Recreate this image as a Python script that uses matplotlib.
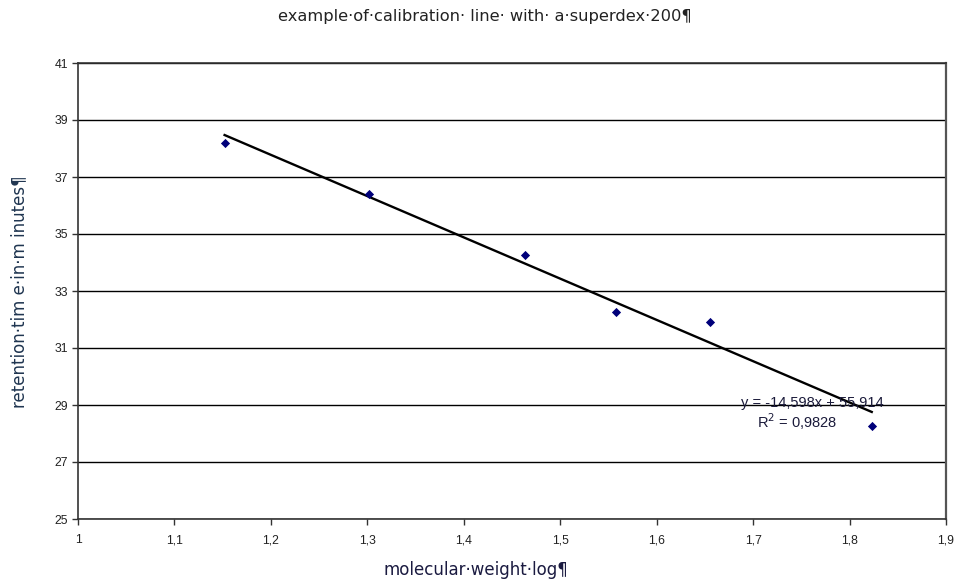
import numpy as np
import matplotlib
matplotlib.use("Agg")
import matplotlib.pyplot as plt

# data
log_mw = [1.152, 1.302, 1.463, 1.558, 1.655, 1.823]
retention = [38.19, 36.40, 34.26, 32.26, 31.91, 28.26]
x_ticks = [1.0, 1.1, 1.2, 1.3, 1.4, 1.5, 1.6, 1.7, 1.8, 1.9]
y_ticks = [25, 27, 29, 31, 33, 35, 37, 39, 41]
title = "example·of·calibration· line· with· a·superdex·200¶"
xlabel = "molecular·weight·log¶"
ylabel = "retention·tim e·in·m inutes¶"
eq_text = "y = -14,598x + 55,914"
r2_text = "R$^2$ = 0,9828"

fig = plt.figure(figsize=(9.62, 5.86), dpi=100)
ax = fig.add_axes([78/962, 67/586, 868/962, 456/586])

slope, intercept = np.polyfit(log_mw, retention, 1)
xs = np.array([min(log_mw), max(log_mw)])
ax.plot(xs, slope * xs + intercept, color="black", lw=1.7, zorder=3)
ax.scatter(log_mw, retention, marker="D", s=22, color="#00007a", zorder=4, linewidths=0)

ax.set_xlim(1.0, 1.9)
ax.set_ylim(25, 41)
ax.set_xticks(x_ticks)
ax.set_yticks(y_ticks)
ax.set_xticklabels([("%g" % v).replace(".", ",") for v in x_ticks],
                   fontfamily="Liberation Sans", fontsize=8.8, color="#222222")
ax.set_yticklabels([str(v) for v in y_ticks],
                   fontfamily="Liberation Sans", fontsize=8.8, color="#222222")
ax.tick_params(axis="both", direction="out", length=4, width=1, color="#333333")
ax.tick_params(axis="x", pad=7)
ax.tick_params(axis="y", pad=3)
ax.grid(axis="y", color="black", lw=1)
ax.set_axisbelow(True)
for side in ["left", "bottom", "top"]:
    ax.spines[side].set_color("#333333")
    ax.spines[side].set_linewidth(1.2)
ax.spines["right"].set_color("#555555")
ax.spines["right"].set_linewidth(1.6)

fig.text(485/962, 1 - 17/586, title, ha="center", va="center",
         fontfamily="DejaVu Sans", fontsize=11.7, color="#222222")
fig.text(476/962, 1 - 570/586, xlabel, ha="center", va="center",
         fontfamily="DejaVu Sans", fontsize=12, color="#1a1a40")
fig.text(19/962, 1 - 292/586, ylabel, ha="center", va="center", rotation=90,
         fontfamily="DejaVu Sans", fontsize=12, color="#1f3550")

ax.text(0.8456, 0.2544, eq_text, transform=ax.transAxes, ha="center", va="center",
        fontfamily="Liberation Sans", fontsize=10.5, color="#1a1a3a")
ax.text(0.829, 0.213, r2_text, transform=ax.transAxes, ha="center", va="center",
        fontfamily="Liberation Sans", fontsize=10.5, color="#1a1a3a")

fig.savefig("out.png", dpi=100, facecolor="white")
